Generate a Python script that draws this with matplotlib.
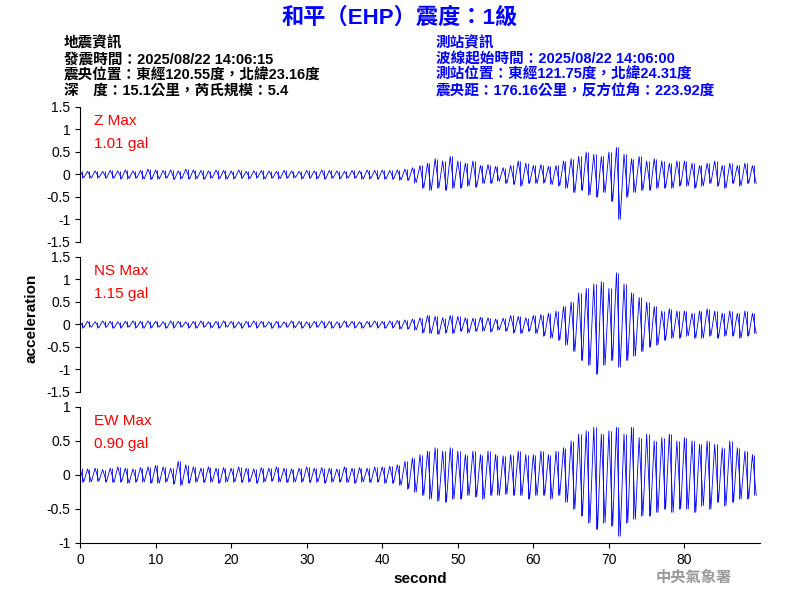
import numpy as np
import matplotlib
matplotlib.use("Agg")
import matplotlib.pyplot as plt

plt.rcParams['font.family'] = ['Liberation Sans', 'Noto Sans CJK TC', 'DejaVu Sans']

# peak values per second, 0..89 s
seconds = list(range(90))
z_up = [.08, .07, .08, .07, .09, .08, .1, .08, .09, .12,
        .1, .09, .1, .08, .12, .1, .09, .08, .1, .09,
        .08, .1, .07, .08, .09, .08, .07, .09, .08, .07,
        .09, .08, .1, .09, .08, .07, .09, .08, .1, .09,
        .1, .09, .1, .12, .15, .2, .25, .35, .3, .4,
        .3, .25, .3, .2, .22, .18, .15, .2, .3, .25,
        .2, .22, .18, .2, .3, .35, .4, .5, .45, .4,
        .5, .6, .45, .35, .4, .3, .35, .3, .25, .3,
        .3, .25, .2, .25, .3, .2, .25, .2, .25, .2]
z_lo = [-.07, -.08, -.07, -.08, -.08, -.09, -.09, -.08, -.1, -.11,
        -.1, -.08, -.11, -.09, -.1, -.09, -.1, -.08, -.09, -.1,
        -.09, -.08, -.09, -.07, -.1, -.08, -.09, -.08, -.07, -.09,
        -.08, -.09, -.1, -.08, -.09, -.08, -.08, -.1, -.09, -.1,
        -.1, -.1, -.12, -.13, -.18, -.3, -.35, -.3, -.35, -.3,
        -.3, -.25, -.28, -.2, -.2, -.15, -.2, -.22, -.25, -.2,
        -.2, -.18, -.22, -.25, -.3, -.4, -.35, -.45, -.5, -.4,
        -.6, -1.0, -.5, -.4, -.35, -.35, -.3, -.3, -.3, -.25,
        -.25, -.3, -.25, -.2, -.25, -.3, -.2, -.25, -.2, -.2]
ns_up = [.06, .07, .06, .08, .07, .06, .07, .08, .07, .08,
         .07, .06, .08, .07, .06, .07, .08, .06, .07, .08,
         .07, .06, .07, .08, .07, .06, .07, .06, .08, .07,
         .06, .07, .08, .07, .06, .08, .07, .06, .07, .08,
         .07, .08, .09, .1, .12, .15, .2, .18, .15, .2,
         .18, .15, .14, .16, .15, .12, .14, .2, .18, .15,
         .2, .22, .25, .3, .4, .5, .7, .8, .9, .95,
         .8, 1.15, .9, .7, .6, .5, .4, .3, .35, .3,
         .3, .25, .3, .35, .3, .25, .3, .25, .3, .25]
ns_lo = [-.07, -.06, -.07, -.06, -.08, -.07, -.06, -.07, -.08, -.07,
         -.06, -.08, -.07, -.06, -.07, -.08, -.06, -.07, -.08, -.06,
         -.07, -.08, -.06, -.07, -.06, -.08, -.07, -.06, -.07, -.08,
         -.07, -.06, -.07, -.08, -.07, -.06, -.07, -.08, -.06, -.07,
         -.08, -.07, -.1, -.1, -.12, -.18, -.2, -.22, -.18, -.2,
         -.15, -.18, -.15, -.14, -.16, -.12, -.15, -.18, -.2, -.15,
         -.2, -.25, -.3, -.35, -.45, -.6, -.8, -.9, -1.1, -.9,
         -.8, -.95, -.8, -.7, -.6, -.5, -.45, -.35, -.3, -.3,
         -.25, -.3, -.3, -.25, -.3, -.25, -.25, -.3, -.25, -.2]
ew_up = [.1, .09, .1, .08, .1, .12, .1, .09, .11, .12,
         .14, .12, .1, .2, .15, .12, .1, .12, .1, .11,
         .1, .12, .1, .09, .11, .1, .12, .1, .09, .1,
         .12, .1, .11, .1, .09, .12, .1, .11, .1, .12,
         .12, .13, .15, .2, .25, .3, .35, .4, .35, .4,
         .35, .3, .35, .3, .35, .3, .28, .3, .35, .3,
         .3, .35, .3, .35, .4, .5, .6, .65, .7, .6,
         .65, .7, .6, .7, .55, .6, .5, .55, .6, .5,
         .55, .5, .45, .5, .45, .4, .5, .4, .35, .3]
ew_lo = [-.1, -.1, -.09, -.1, -.11, -.1, -.12, -.1, -.1, -.12,
         -.12, -.1, -.13, -.15, -.12, -.1, -.11, -.1, -.12, -.1,
         -.1, -.11, -.1, -.12, -.1, -.09, -.1, -.11, -.1, -.1,
         -.11, -.1, -.12, -.1, -.1, -.11, -.12, -.1, -.11, -.1,
         -.12, -.12, -.15, -.2, -.25, -.3, -.35, -.38, -.4, -.35,
         -.35, -.3, -.32, -.35, -.3, -.3, -.28, -.3, -.3, -.35,
         -.3, -.3, -.35, -.3, -.4, -.5, -.6, -.7, -.8, -.7,
         -.75, -.9, -.7, -.65, -.6, -.6, -.55, -.5, -.55, -.5,
         -.5, -.55, -.45, -.5, -.4, -.45, -.4, -.35, -.35, -.3]

traces = [("Z Max", "1.01 gal", z_up, z_lo, 1.5),
          ("NS Max", "1.15 gal", ns_up, ns_lo, 1.5),
          ("EW Max", "0.90 gal", ew_up, ew_lo, 1.0)]
boxes = [(0.5967, 0.225), (0.3467, 0.225), (0.095, 0.2267)]

BLUE = "#0000ff"
fig = plt.figure(figsize=(8, 6), dpi=100)

for (name, mx, up, lo, lim), (y0, h) in zip(traces, boxes):
    ax = fig.add_axes([0.1, y0, 0.85, h])
    t = np.array(seconds, dtype=float)
    xs = np.ravel(np.column_stack([t, t + 0.5]))
    ys = np.ravel(np.column_stack([up, lo]))
    ax.plot(xs, ys, color=BLUE, lw=0.6)
    ax.vlines(t + 0.25, lo, up, color=BLUE, lw=0.6)
    ax.set_xlim(0, 90)
    ax.set_ylim(-lim, lim)
    ticks = np.arange(-lim, lim + 0.01, 0.5)
    ax.set_yticks(ticks)
    ax.set_yticklabels([f"{v:g}" for v in ticks], fontsize=10)
    for s in ("top", "right"):
        ax.spines[s].set_visible(False)
    ax.text(0.02, 0.95, name, transform=ax.transAxes, color="red", fontsize=11, va="top")
    ax.text(0.02, 0.78, mx, transform=ax.transAxes, color="red", fontsize=11, va="top")
    if name != "EW Max":
        ax.spines["bottom"].set_visible(False)
        ax.set_xticks([])
    else:
        ax.set_xticks(range(0, 90, 10))
        ax.tick_params(labelsize=10)
        ax.set_xlabel("second", fontsize=11, fontweight="bold")

fig.text(0.04, 0.47, "acceleration", rotation=90, fontsize=11, fontweight="bold",
         ha="center", va="center")
fig.text(0.5, 0.97, "和平（EHP）震度：1級", color=BLUE, fontsize=16, fontweight="bold",
         ha="center", va="center")
left = ["地震資訊", "發震時間：2025/08/22 14:06:15",
        "震央位置：東經120.55度，北緯23.16度", "深　度：15.1公里，芮氏規模：5.4"]
right = ["測站資訊", "波線起始時間：2025/08/22 14:06:00",
         "測站位置：東經121.75度，北緯24.31度", "震央距：176.16公里，反方位角：223.92度"]
for i, (a, b) in enumerate(zip(left, right)):
    y = 0.928 - i * 0.0265
    fig.text(0.08, y, a, fontsize=10.5, fontweight="bold", va="center")
    fig.text(0.545, y, b, fontsize=10.5, fontweight="bold", color=BLUE, va="center")
fig.text(0.82, 0.03, "中央氣象署", fontsize=11, fontweight="bold", color="#999999")

fig.savefig("out.png", dpi=100)
